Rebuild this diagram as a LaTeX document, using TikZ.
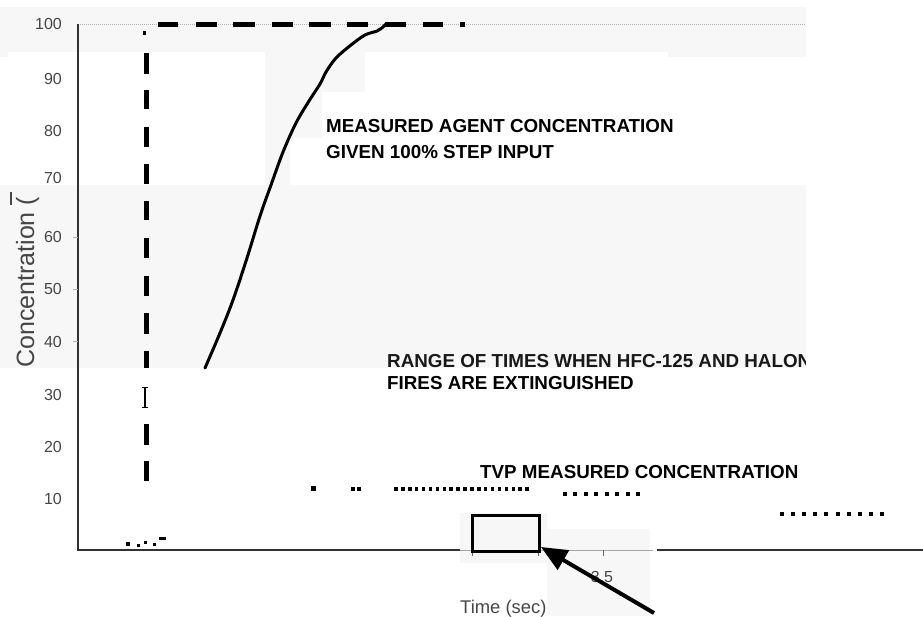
\documentclass[tikz,border=0pt]{standalone}
\usepackage{fontspec}
\setmainfont{Liberation Sans}
\usetikzlibrary{arrows.meta}
\definecolor{bgpatch}{RGB}{247,247,247}
\definecolor{axisgray}{RGB}{50,50,50}
\definecolor{ticklabel}{RGB}{70,70,70}
\begin{document}
\begin{tikzpicture}[x=1pt,y=-1pt,
  patch/.style={fill=bgpatch, draw=none},
  ticklbl/.style={font=\fontsize{16}{18}\selectfont, text=ticklabel, anchor=east, inner sep=0},
  boldlbl/.style={font=\fontsize{18.8}{22}\selectfont\bfseries, anchor=west, inner sep=0},
  vdash/.style={line width=5pt},
  hdash/.style={line width=5pt},
  axisline/.style={line width=1.1pt, draw=axisgray},
  curveline/.style={line width=3pt, line join=round, line cap=round},
  pointer/.style={line width=4pt, -{Triangle[length=26pt,width=22pt]}},
]
\useasboundingbox (0,0) rectangle (923,616);
% background patches
\fill[patch] (0,7) rectangle (806,52);
\fill[patch] (668,52) rectangle (806,57);
\fill[patch] (0,52) rectangle (8,57);
\fill[patch] (265,52) rectangle (290,187);
\fill[patch] (290,52) rectangle (365,92);
\fill[patch] (290,92) rectangle (322,138);
\fill[patch] (0,185) rectangle (806,368);
\fill[patch] (460,513) rectangle (547,563);
\fill[patch] (547,529) rectangle (650,616);
% gridline at 100
\draw[gray!60, line width=0.6pt, dash pattern=on 1pt off 1pt] (78,24) -- (806,24);
% axes
\coordinate (origin) at (78,550);
\coordinate (ytop) at (78,24);
\coordinate (xa) at (460,550);
\coordinate (xb) at (653,550);
\coordinate (xc) at (657,550);
\coordinate (xend) at (923,550);
\draw[axisline] (ytop) -- (origin) -- (xa);
\draw[line width=0.9pt, gray!70] (xa) -- (xb);
\draw[axisline] (xc) -- (xend);
% y ticks
\foreach \yy in {237,289,341} \draw[gray!60, line width=0.6pt] (73,\yy) -- (78,\yy);
% x ticks
\foreach \xx in {472,538,603} \draw[gray!80!black, line width=0.7pt] (\xx,550) -- (\xx,556);
% y tick labels
\node[ticklbl] (t100) at (62,24) {100};
\node[ticklbl] (t90) at (62,79) {90};
\node[ticklbl] (t80) at (62,131) {80};
\node[ticklbl] (t70) at (62,178) {70};
\node[ticklbl] (t60) at (62,237) {60};
\node[ticklbl] (t50) at (62,289) {50};
\node[ticklbl] (t40) at (62,342) {40};
\node[ticklbl] (t30) at (62,395) {30};
\node[ticklbl] (t20) at (62,447) {20};
\node[ticklbl] (t10) at (62,499) {10};
% axis titles
\node[rotate=90, anchor=base west, font=\fontsize{25}{30}\selectfont, text=ticklabel, inner sep=0] (ylab) at (34,368) {Concentration (};
\coordinate (barA) at (11,192);
\coordinate (barB) at (11,205);
\draw[ticklabel, line width=1.2pt] (barA) -- (barB);
\node[anchor=base west, font=\fontsize{18.4}{22}\selectfont, text=ticklabel, inner sep=0] (xlab) at (460,613) {Time (sec)};
\node[font=\fontsize{16}{18}\selectfont, text=ticklabel, inner sep=0] (x35) at (602,577) {3.5};
% vertical dashed line
\fill (142.5,31) rectangle (146,34.5);
\foreach \a/\b in {53/74,90/109,127/147,164/184,201/220,238/258,276/296,313/334,351/368,424/445,461/481}
  \draw[vdash] (146,\a) -- (146,\b);
% serif I artifact
\draw[line width=1.5pt] (145,387) -- (145,408);
\draw[line width=1.2pt] (142,387.5) -- (148,387.5);
\draw[line width=1.2pt] (142,407.5) -- (148,407.5);
% horizontal dashed line at 100
\foreach \a/\b in {158/178,196/217,233/255,272/293,309/331,347/368,385/406,423/443,460/465}
  \draw[hdash] (\a,24) -- (\b,24);
% measured curve
\draw[curveline] plot[smooth, tension=0.55] coordinates {(205,368) (220,333) (233,300) (247,258) (260,216) (271,185) (283,152) (296,123) (309,101) (320,84) (326,72) (336,58) (351,45) (365,35) (377,31) (383,27) (386,24)};
% labels
\node[boldlbl] (lab1a) at (326,126) {MEASURED AGENT CONCENTRATION};
\node[boldlbl] (lab1b) at (326,152) {GIVEN 100\% STEP INPUT};
\begin{scope}
\clip (0,340) rectangle (805,400);
\node[boldlbl, text=black!90] (lab2a) at (387,361) {RANGE OF TIMES WHEN HFC-125 AND HALON};
\end{scope}
\node[boldlbl] (lab2b) at (387,383) {FIRES ARE EXTINGUISHED};
\node[boldlbl] (lab3) at (480,472) {TVP MEASURED CONCENTRATION};
% TVP dotted measurements
\fill (310.5,485.5) rectangle (315.5,490.5);
\fill (351,487) rectangle (355,491);
\fill (356.5,487) rectangle (360.5,491);
\foreach \i in {0,...,19} \fill ({394.25+6.9*\i},487.25) rectangle +(3.5,3.5);
\foreach \i in {0,...,7} \fill ({563+10.43*\i},492) rectangle +(4,4);
\foreach \i in {0,...,9} \fill ({780+11.1*\i},512) rectangle +(4,4);
% marks near origin
\fill (126,542) rectangle (130,546);
\fill (137,544) rectangle (140,546.5);
\fill (144,541) rectangle (147,544);
\fill (153,543) rectangle (156,546);
\fill (159,537) rectangle (166,540);
% box and pointer
\node[draw, line width=3pt, minimum width=67pt, minimum height=36pt, inner sep=0] (box) at (505.5,533) {};
\coordinate (pstart) at (654,613);
\coordinate (ptip) at (541,547);
\draw[pointer] (pstart) -- (ptip);
\end{tikzpicture}
\end{document}
